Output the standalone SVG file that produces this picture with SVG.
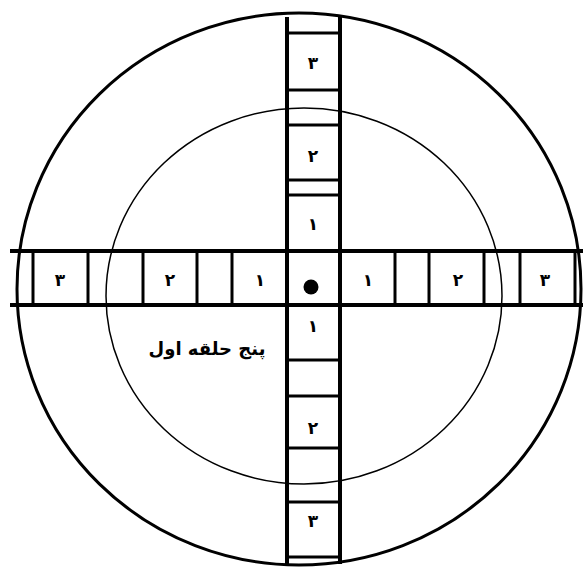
<svg xmlns="http://www.w3.org/2000/svg" width="583" height="569" viewBox="0 0 583 569">
<style>
.thick{stroke:#000;stroke-width:4;fill:none}
.div{stroke:#000;stroke-width:3;fill:none}
.num{font-family:"DejaVu Sans",serif;font-size:17px;font-weight:bold;text-anchor:middle;fill:#000}
.lbl{font-family:"DejaVu Sans",serif;font-size:18px;font-weight:bold;text-anchor:middle;fill:#000}
</style>
<rect width="583" height="569" fill="#fff"/>
<g id="outer-circle"><ellipse cx="299" cy="289" rx="282" ry="276" fill="none" stroke="#000" stroke-width="3"/></g>
<g id="inner-circle"><ellipse cx="304" cy="296" rx="198" ry="188" fill="none" stroke="#000" stroke-width="1.5"/></g>
<g id="connectors">
<line class="thick" x1="10" y1="251" x2="583" y2="251"/>
<line class="thick" x1="10" y1="305" x2="583" y2="305"/>
<line class="thick" x1="287" y1="17" x2="287" y2="564"/>
<line class="thick" x1="340" y1="17" x2="340" y2="564"/>
<g class="div">
<line x1="33" y1="251" x2="33" y2="305"/>
<line x1="88" y1="251" x2="88" y2="305"/>
<line x1="143" y1="251" x2="143" y2="305"/>
<line x1="197" y1="251" x2="197" y2="305"/>
<line x1="232" y1="251" x2="232" y2="305"/>
<line x1="395" y1="251" x2="395" y2="305"/>
<line x1="429" y1="251" x2="429" y2="305"/>
<line x1="484" y1="251" x2="484" y2="305"/>
<line x1="520" y1="251" x2="520" y2="305"/>
<line x1="575" y1="251" x2="575" y2="305"/>
<line x1="287" y1="33" x2="340" y2="33"/>
<line x1="287" y1="90" x2="340" y2="90"/>
<line x1="287" y1="125" x2="340" y2="125"/>
<line x1="287" y1="180" x2="340" y2="180"/>
<line x1="287" y1="195" x2="340" y2="195"/>
<line x1="287" y1="360" x2="340" y2="360"/>
<line x1="287" y1="396" x2="340" y2="396"/>
<line x1="287" y1="448" x2="340" y2="448"/>
<line x1="287" y1="502" x2="340" y2="502"/>
<line x1="287" y1="557" x2="340" y2="557"/>
</g>
</g>
<g id="center"><circle cx="311" cy="287" r="7.5" fill="#000"/></g>
<g id="labels">
<text class="num" x="313" y="69">٣</text>
<text class="num" x="313" y="162">٢</text>
<text class="num" x="313" y="230">١</text>
<text class="num" x="313" y="332">١</text>
<text class="num" x="313" y="434">٢</text>
<text class="num" x="313" y="527">٣</text>
<text class="num" x="60" y="286">٣</text>
<text class="num" x="170" y="286">٢</text>
<text class="num" x="260" y="286">١</text>
<text class="num" x="368" y="286">١</text>
<text class="num" x="458" y="286">٢</text>
<text class="num" x="545" y="286">٣</text>
</g>
<g id="caption"><text class="lbl" x="207" y="355" direction="rtl">پنج حلقه اول</text></g>
</svg>
